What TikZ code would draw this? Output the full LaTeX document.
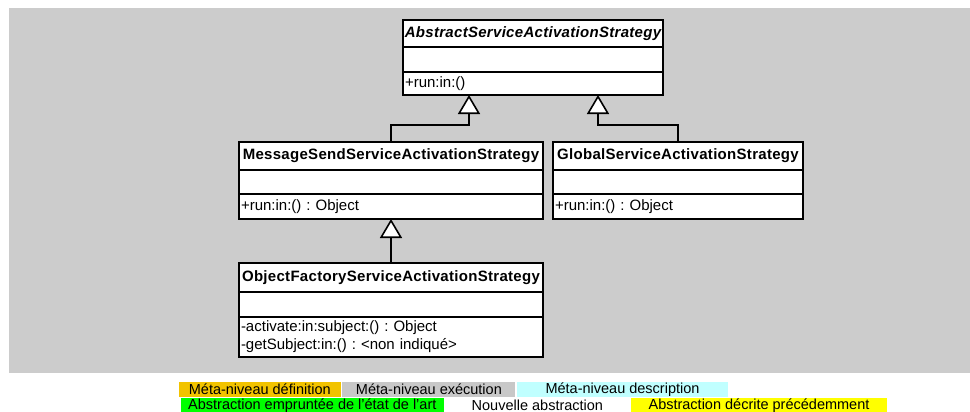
\documentclass[tikz,border=0pt]{standalone}
\usepackage{fontspec}
\setmainfont{Liberation Sans}
\newfontfamily\headfont[LetterSpace=2]{Liberation Sans}
\usepackage{tikz}
\usetikzlibrary{positioning, arrows.meta}
\definecolor{bggray}{RGB}{204,204,204}
\definecolor{legorange}{RGB}{242,195,0}
\definecolor{leggray}{RGB}{200,200,200}
\definecolor{legcyan}{RGB}{192,255,255}
\definecolor{leggreen}{RGB}{0,255,0}
\definecolor{legyellow}{RGB}{255,255,0}
\frenchspacing

\begin{document}
\begin{tikzpicture}[x=1pt, y=-1pt, line width=1.6pt, font=\fontsize{15}{18}\selectfont]
	\tikzstyle{compart}=[draw=black, fill=white, inner sep=0pt, outer sep=0pt]
	\tikzstyle{head}=[compart, font=\headfont\fontsize{15}{18}\selectfont\bfseries]
	\tikzstyle{attr}=[compart, minimum height=24pt]
	\tikzstyle{meth}=[compart, align=left, inner xsep=2pt]
	\tikzstyle{inherit}=[-{Triangle[fill=white, length=19pt, width=22pt]}]
	\tikzstyle{legend}=[inner sep=0pt, minimum height=15pt, font=\fontsize{14.5}{15}\selectfont]
	
	\useasboundingbox (0,0) rectangle (970,412);
	\fill[bggray] (9,8) rectangle (970,373);
	
	% Abstract strategy
	\node[head, minimum width=260pt, minimum height=27pt, anchor=north] (AS-h) at (533,20) {\itshape AbstractServiceActivationStrategy};
	\node[attr, minimum width=260pt, minimum height=25pt, below=0pt of AS-h] (AS-a) {};
	\node[meth, text width=256pt, minimum height=23pt, below=0pt of AS-a] (AS-m) {+run:in:()};
	
	% Message send strategy
	\node[head, minimum width=304pt, minimum height=28pt, anchor=north] (MS-h) at (391,142) {MessageSendServiceActivationStrategy};
	\node[attr, minimum width=304pt, below=0pt of MS-h] (MS-a) {};
	\node[meth, text width=300pt, minimum height=25pt, below=0pt of MS-a] (MS-m) {+run:in:() : Object};
	
	% Global strategy
	\node[head, minimum width=250pt, minimum height=28pt, anchor=north] (GS-h) at (678,142) {GlobalServiceActivationStrategy};
	\node[attr, minimum width=250pt, below=0pt of GS-h] (GS-a) {};
	\node[meth, text width=246pt, minimum height=25pt, below=0pt of GS-a] (GS-m) {+run:in:() : Object};
	
	% Object factory strategy
	\node[head, minimum width=304pt, minimum height=29pt, anchor=north] (OF-h) at (391,263) {ObjectFactoryServiceActivationStrategy};
	\node[attr, minimum width=304pt, minimum height=25pt, below=0pt of OF-h] (OF-a) {};
	\node[meth, text width=300pt, minimum height=40pt, below=0pt of OF-a] (OF-m) {-activate:in:subject:() : Object\\-getSubject:in:() : <non indiqué>};
	
	% Generalisations
	\draw[inherit] (MS-h.north) -- ++(0,-17) -| ([xshift=-64pt]AS-m.south);
	\draw[inherit] (GS-h.north) -- ++(0,-17) -| ([xshift=65pt]AS-m.south);
	\draw[inherit] (OF-h.north) -- (MS-m.south);
	
	% Legend
	\node[legend, fill=legorange, minimum width=162pt, anchor=north west] (L-1) at (178,381) {Méta-niveau définition};
	\node[legend, fill=leggray, minimum width=173pt, right=0pt of L-1] (L-2) {Méta-niveau exécution};
	\node[legend, fill=legcyan, minimum width=211pt, right=0pt of L-2] (L-3) {Méta-niveau description};
	\node[legend, fill=leggreen, minimum width=263pt, anchor=north west] (L-4) at (180,397) {Abstraction empruntée de l'état de l'art};
	\node[legend, fill=white, minimum width=184pt, right=0pt of L-4] (L-5) {Nouvelle abstraction};
	\node[legend, fill=legyellow, minimum width=256pt, right=0pt of L-5] (L-6) {Abstraction décrite précédemment};
\end{tikzpicture}
\end{document}
